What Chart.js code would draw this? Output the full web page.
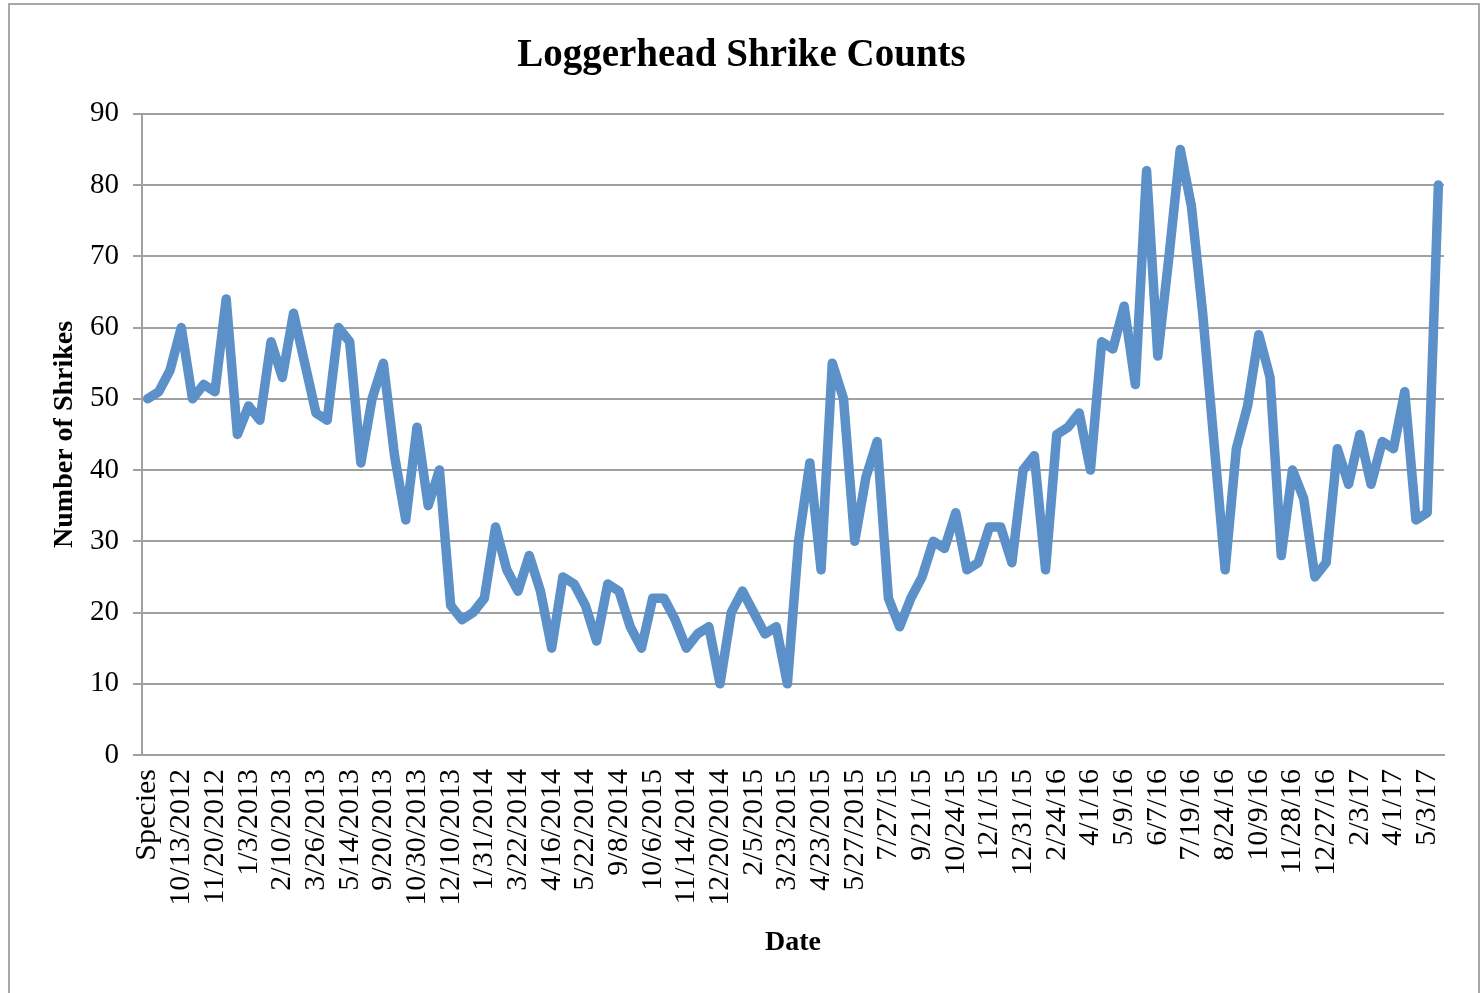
<!DOCTYPE html>
<html>
<head>
<meta charset="utf-8">
<script src="https://cdn.jsdelivr.net/npm/chart.js@4"></script>
<style>
  body { margin: 0; background: #fff; }
  #wrap { position: relative; width: 1483px; height: 993px; }
</style>
</head>
<body>
<div id="wrap"><canvas id="shrikeChart" width="1483" height="993"></canvas></div>
<script>
// Tick labels shown on the x axis (every third survey date)
const tickLabels = [
    "Species", "10/13/2012", "11/20/2012", "1/3/2013", "2/10/2013", "3/26/2013",
    "5/14/2013", "9/20/2013", "10/30/2013", "12/10/2013", "1/31/2014", "3/22/2014",
    "4/16/2014", "5/22/2014", "9/8/2014", "10/6/2015", "11/14/2014", "12/20/2014",
    "2/5/2015", "3/23/2015", "4/23/2015", "5/27/2015", "7/27/15", "9/21/15",
    "10/24/15", "12/1/15", "12/31/15", "2/24/16", "4/1/16", "5/9/16", "6/7/16",
    "7/19/16", "8/24/16", "10/9/16", "11/28/16", "12/27/16", "2/3/17", "4/1/17", "5/3/17"
];
// Shrike counts, one per survey
const shrikeCounts = [
    50, 51, 54, 60, 50, 52, 51, 64, 45, 49, 47, 58, 53, 62, 55, 48, 47, 60, 58, 41,
    50, 55, 42, 33, 46, 35, 40,
    21, 19, 20, 22, 32, 26, 23, 28, 23, 15, 25, 24, 21, 16, 24, 23, 18, 15, 22, 22,
    19, 15, 17, 18, 10, 20, 23, 20, 17, 18, 10, 30, 41, 26,
    55, 50, 30, 39, 44, 22, 18, 22, 25, 30, 29, 34, 26, 27, 32, 32, 27, 40, 42, 26,
    45, 46, 48, 40, 58, 57,
    63, 52, 82, 56, 70, 85, 77, 62, 44, 26, 43, 49, 59, 53, 28, 40, 36, 25, 27, 43,
    38, 45, 38, 44, 43, 51, 33, 34, 80
];
const yTicks = { min: 0, max: 90, step: 10 };

// Only every third category carries a readable date
const categories = shrikeCounts.map((_, i) => (i % 3 === 0 && tickLabels[i / 3]) || "");

const serif = "'Liberation Serif', 'Times New Roman', serif";
const gridGray = "#a0a0a0";

// Outer frame around the whole chart
const framePlugin = {
    id: "frame",
    afterDraw(chart) {
        const c = chart.ctx;
        c.save();
        c.strokeStyle = "#a8a8a8";
        c.lineWidth = 2;
        c.strokeRect(9, 4, 1470, 1100);
        c.restore();
    },
};

const ctx = document.getElementById("shrikeChart").getContext("2d");
const shrikeChart = new Chart(ctx, {
    type: "line",
    data: {
        labels: categories,
        datasets: [
            {
                label: "Loggerhead Shrike",
                data: shrikeCounts,
                borderColor: "#5b90c8",
                borderWidth: 9.5,
                borderCapStyle: "round",
                borderJoinStyle: "round",
                pointRadius: 0,
                tension: 0,
                fill: false,
            },
        ],
    },
    options: {
        responsive: false,
        animation: false,
        layout: { padding: 0 },
        scales: {
            x: {
                offset: true,
                grid: { display: true, drawOnChartArea: false, drawTicks: false },
                border: { display: true, color: gridGray, width: 2 },
                ticks: {
                    autoSkip: false,
                    minRotation: 90,
                    maxRotation: 90,
                    padding: 14,
                    color: "#000",
                    font: { family: serif, size: 30 },
                },
                title: {
                    display: true,
                    text: "Date",
                    color: "#000",
                    font: { family: serif, size: 28, weight: "bold" },
                    padding: { top: 0, bottom: 33 },
                },
                afterFit: (scale) => {
                    scale.height = 238;
                    scale.paddingLeft = 0;
                    scale.paddingRight = 39; // room right of the plot
                },
            },
            y: {
                min: yTicks.min,
                max: yTicks.max,
                grid: { color: gridGray, lineWidth: 2, tickLength: 9 },
                border: { display: true, color: gridGray, width: 2 },
                ticks: {
                    stepSize: yTicks.step,
                    padding: 14,
                    color: "#000",
                    font: { family: serif, size: 29 },
                },
                title: {
                    display: true,
                    text: "Number of Shrikes",
                    color: "#000",
                    font: { family: serif, size: 28, weight: "bold" },
                    padding: { top: 48, bottom: 0 },
                },
                afterFit: (scale) => { scale.width = 142; },
            },
        },
        plugins: {
            legend: { display: false },
            tooltip: { enabled: false },
            title: {
                display: true,
                text: "Loggerhead Shrike Counts",
                color: "#000",
                font: { family: serif, size: 39, weight: "bold" },
                padding: { top: 33, bottom: 34 },
            },
        },
    },
    plugins: [framePlugin],
});
</script>
</body>
</html>
